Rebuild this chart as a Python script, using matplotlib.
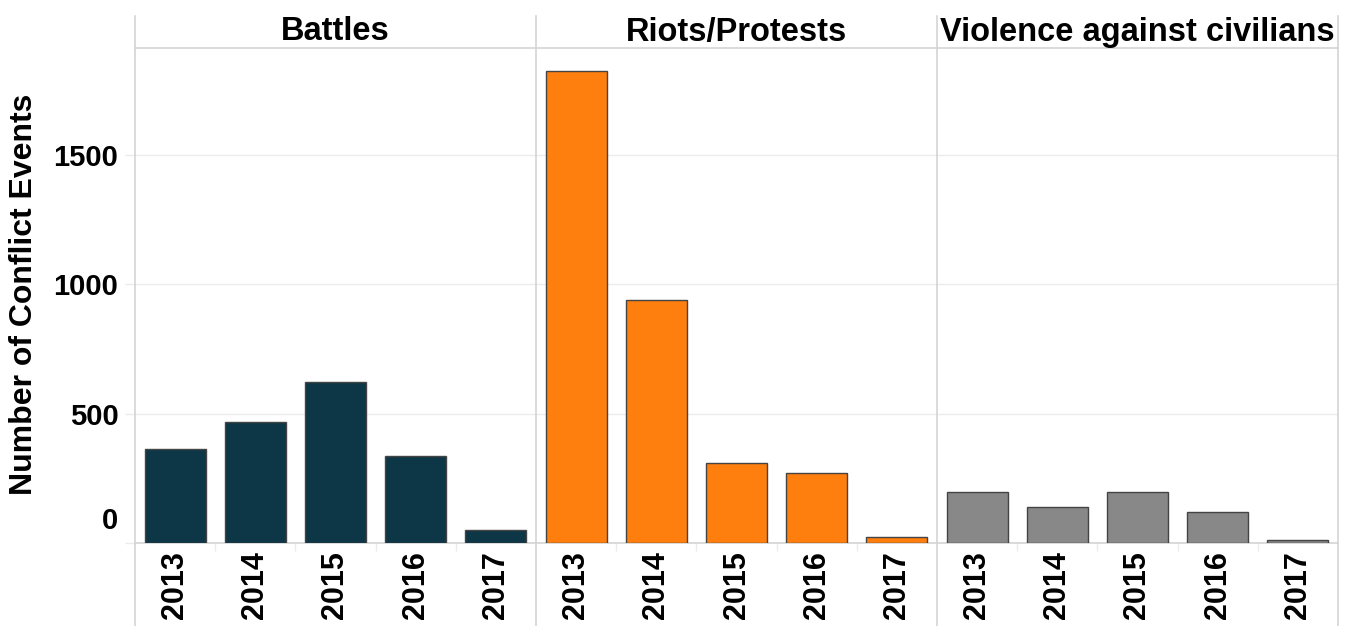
# Conflict events by type and year, three side-by-side panels

import numpy as np
import matplotlib.pyplot as plt
from matplotlib.lines import Line2D
from matplotlib.transforms import ScaledTranslation

plt.rcParams['font.family'] = ['Liberation Sans', 'DejaVu Sans']

# Data
years = ['2013', '2014', '2015', '2016', '2017']
event_types = ['Battles', 'Riots/Protests', 'Violence against civilians']
battles = [365, 466, 623, 335, 52]
riots = [1823, 938, 310, 272, 24]
violence = [197, 138, 197, 121, 13]
colors = ['#0d3646', '#ff7f0e', '#888888']
y_ticks = [0, 500, 1000, 1500]

series = [battles, riots, violence]

fig = plt.figure(figsize=(13.48, 6.26), dpi=100)

W, H = 1348, 626
left_px, right_px = 135, 1338
base_px, top_px, head_px = 543, 48, 16
panel_w = (right_px - left_px) / 3
grid_col = '#ebebeb'
line_col = '#d4d4d4'

x = np.arange(len(years))
for i, (name, vals, col) in enumerate(zip(event_types, series, colors)):
    ax = fig.add_axes([(left_px + i * panel_w) / W, 1 - base_px / H,
                       panel_w / W, (base_px - top_px) / H])
    ax.bar(x, vals, width=0.76, color=col, edgecolor='#444444', linewidth=1, zorder=3)
    ax.set_xlim(-0.5, len(years) - 0.5)
    ax.set_ylim(0, 1913)
    ax.set_yticks(y_ticks)
    ax.yaxis.grid(True, color=grid_col, linewidth=1, zorder=0)
    ax.set_xticks(x)
    ax.set_xticklabels(years, rotation=90, fontsize=22, fontweight='bold')
    ax.set_xticks(np.arange(0.5, len(years) - 1, 1), minor=True)
    ax.tick_params(axis='x', which='major', length=0, pad=6)
    ax.tick_params(axis='x', which='minor', length=6, color=grid_col, width=1)
    for s in ['top', 'right', 'left']:
        ax.spines[s].set_visible(False)
    ax.spines['bottom'].set_color(line_col)
    ax.spines['bottom'].set_linewidth(1.2)
    if i == 0:
        ax.tick_params(axis='y', length=7, color=grid_col, width=1, pad=5)
        ax.set_yticklabels([str(v) for v in y_ticks], fontsize=21, fontweight='bold')
        # the zero label sits just above the baseline
        zero = ax.yaxis.get_major_ticks()[0].label1
        zero.set_verticalalignment('bottom')
        zero.set_transform(zero.get_transform() + ScaledTranslation(0, 6 / 72, fig.dpi_scale_trans))
    else:
        ax.tick_params(axis='y', length=0, labelleft=False)
    # panel header
    fig.text((left_px + (i + 0.5) * panel_w) / W, 1 - (head_px + top_px) / 2 / H,
             name, ha='center', va='center', fontsize=23.5, fontweight='bold')

fig.text(24 / W, 1 - 294 / H, 'Number of Conflict Events', rotation=90,
         ha='center', va='center', fontsize=23, fontweight='bold')

# panel dividers running through header and tick label area
for i in range(4):
    xf = (left_px + i * panel_w) / W
    fig.add_artist(Line2D([xf, xf], [0, 1 - head_px / H], color=line_col, linewidth=1.2))
# line under the headers
fig.add_artist(Line2D([left_px / W, right_px / W], [1 - top_px / H, 1 - top_px / H],
                      color=line_col, linewidth=1.2))

fig.savefig('out.png', dpi=100)
